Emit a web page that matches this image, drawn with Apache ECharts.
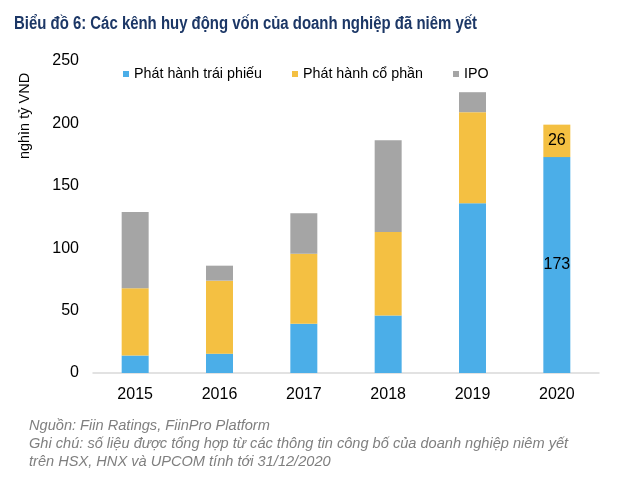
<!DOCTYPE html>
<html>
<head>
<meta charset="utf-8">
<script src="https://cdn.jsdelivr.net/npm/echarts@6/dist/echarts.min.js"></script>
<style>
html,body{margin:0;padding:0;background:#fff;}
#c{width:640px;height:481px;}
</style>
</head>
<body>
<div id="c"></div>
<script>
const categories = ['2015', '2016', '2017', '2018', '2019', '2020'];
const bonds = [14, 15.5, 39.5, 46, 136, 173];
const shares = [54, 58.5, 56, 67, 73, 26];
const ipo = [61, 12, 32.5, 73.5, 16, null];
const labelledIndex = 5;
const yTicks = [0, 50, 100, 150, 200, 250];
const seriesNames = ['Phát hành trái phiếu', 'Phát hành cổ phần', 'IPO'];
const titleText = 'Biểu đồ 6: Các kênh huy động vốn của doanh nghiệp đã niêm yết';
const footerText = 'Nguồn: Fiin Ratings, FiinPro Platform\nGhi chú: số liệu được tổng hợp từ các thông tin công bố của doanh nghiệp niêm yết\ntrên HSX, HNX và UPCOM tính tới 31/12/2020';

const FONT = 'Liberation Sans, Arial, sans-serif';
const chart = echarts.init(document.getElementById('c'), null, {renderer: 'canvas'});

// horizontal compression of the title to match the narrow title face
const titleFont = 'bold 18px ' + FONT;
const ctx = document.createElement('canvas').getContext('2d');
ctx.font = titleFont;
const titleScaleX = 463 / ctx.measureText(titleText).width;

function withLabels(arr) {
  return arr.map((v, i) => i === labelledIndex
    ? {value: v, label: {show: true, position: 'inside', color: '#000', fontSize: 16, fontFamily: FONT}}
    : v);
}

chart.setOption({
  backgroundColor: '#fff',
  animation: false,
  legend: {
    left: 118, top: 62,
    itemWidth: 6, itemHeight: 6, itemGap: 30,
    icon: 'rect',
    textStyle: {fontSize: 14.3, color: '#000', fontFamily: FONT},
    data: seriesNames
  },
  grid: {left: 93, right: 41, top: 61, bottom: 108, containLabel: false},
  xAxis: {
    type: 'category',
    data: categories,
    axisLine: {lineStyle: {color: '#d9d9d9', width: 1.5}},
    axisTick: {show: false},
    axisLabel: {fontSize: 16, color: '#000', fontFamily: FONT, margin: 14}
  },
  yAxis: {
    type: 'value',
    min: yTicks[0], max: yTicks[yTicks.length - 1], interval: 50,
    axisLine: {show: false},
    axisTick: {show: false},
    splitLine: {show: false},
    axisLabel: {fontSize: 16, color: '#000', fontFamily: FONT, margin: 14}
  },
  graphic: [
    {
      type: 'text', x: 14, y: 24, scaleX: titleScaleX,
      style: {text: titleText, font: titleFont, fill: '#1c3766', align: 'left', verticalAlign: 'middle'}
    },
    {
      type: 'text', x: 25, y: 116, rotation: Math.PI / 2,
      style: {text: 'nghìn tỷ VND', fontSize: 14.5, fill: '#000', fontFamily: FONT, align: 'center', verticalAlign: 'middle'}
    },
    {
      type: 'text', left: 29, top: 417,
      style: {
        text: footerText,
        fontSize: 14.6, lineHeight: 18, fill: '#7f7f7f', fontStyle: 'italic', fontFamily: FONT
      }
    }
  ],
  series: [
    {name: seriesNames[0], type: 'bar', stack: 's', barWidth: '32%', itemStyle: {color: '#4baee8'}, data: withLabels(bonds)},
    {name: seriesNames[1], type: 'bar', stack: 's', barWidth: '32%', itemStyle: {color: '#f4c042'}, data: withLabels(shares)},
    {name: seriesNames[2], type: 'bar', stack: 's', barWidth: '32%', itemStyle: {color: '#a5a5a5'}, data: ipo}
  ]
});
</script>
</body>
</html>
